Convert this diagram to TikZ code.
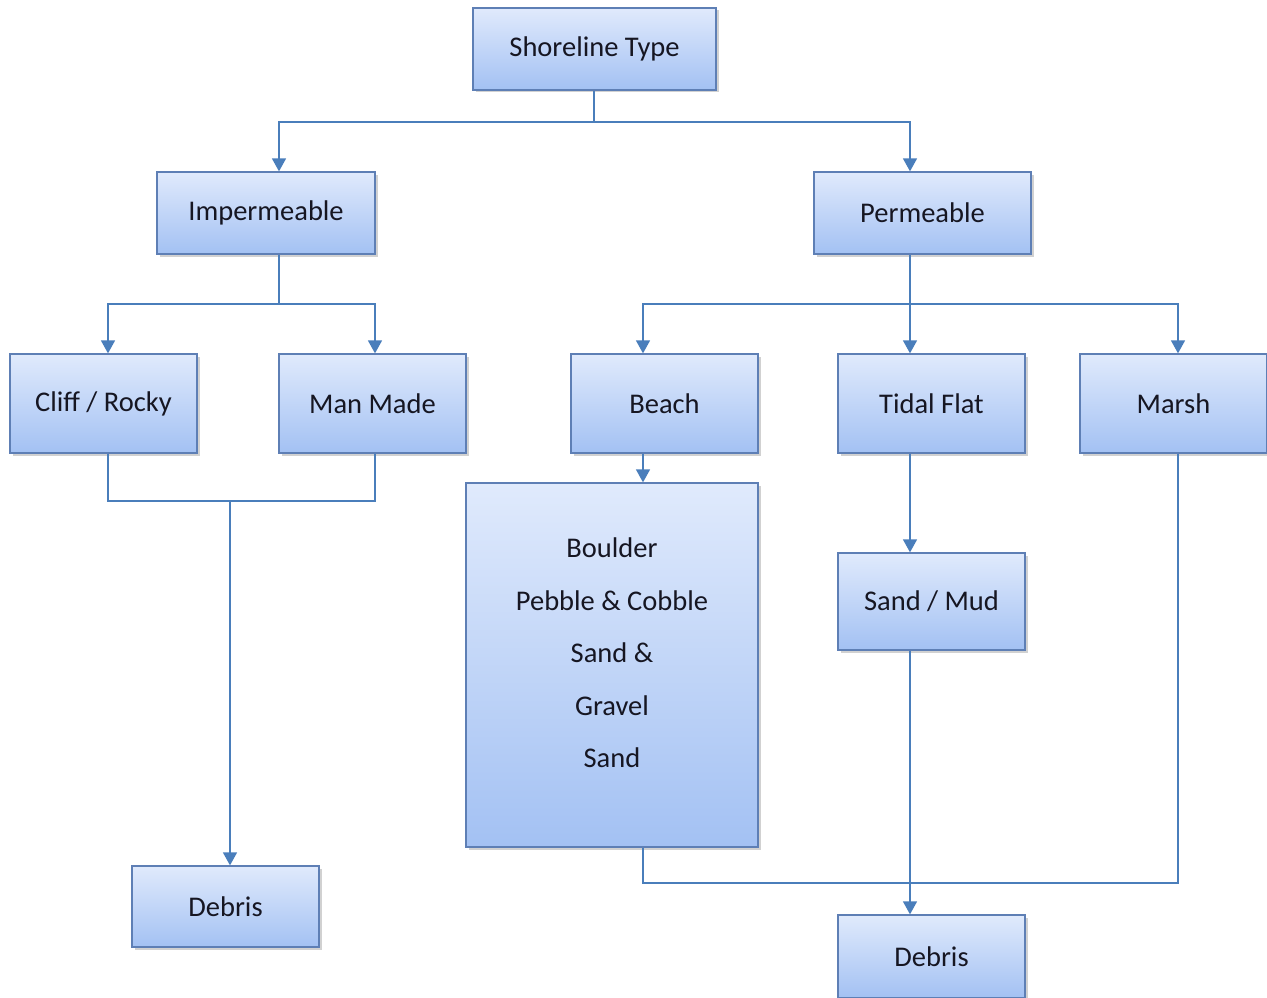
\documentclass[tikz,border=0pt]{standalone}
\usepackage{fontspec}
\setmainfont{Carlito}
\usetikzlibrary{arrows.meta,shadows}
\definecolor{linec}{HTML}{4A7EBB}
\definecolor{bordc}{HTML}{5E7FB5}
\definecolor{topc}{HTML}{E0EAFC}
\definecolor{botc}{HTML}{A3C1F3}
\definecolor{txtc}{HTML}{161622}
\tikzset{
  box/.style={draw=bordc, line width=1.3pt, top color=topc, bottom color=botc,
    text=txtc, font=\fontsize{28.5}{34}\selectfont, inner sep=0pt,
    drop shadow={shadow xshift=2.5pt, shadow yshift=-2.5pt, opacity=0.3, fill=black!60}},
  conn/.style={draw=linec, line width=1.5pt},
  arr/.style={conn, -{Triangle[width=14pt,length=13pt]}},
}
\begin{document}
\begin{tikzpicture}[x=1pt,y=-1pt]
\useasboundingbox (0,0) rectangle (1267,998);
% boxes
\node[box, minimum width=243, minimum height=82] (st) at (594.5,49) {Shoreline Type};
\node[box, minimum width=218, minimum height=82] (imp) at (266,213) {Impermeable};
\node[box, minimum width=217, minimum height=82] (perm) at (922.5,213) {Permeable};
\node[box, minimum width=187, minimum height=99] (cliff) at (103.5,403.5) {Cliff / Rocky};
\node[box, minimum width=187, minimum height=99] (man) at (372.5,403.5) {Man Made};
\node[box, minimum width=187, minimum height=99] (beach) at (664.5,403.5) {Beach};
\node[box, minimum width=187, minimum height=99] (tidal) at (931.5,403.5) {Tidal Flat};
\node[box, minimum width=187, minimum height=99] (marsh) at (1173.5,403.5) {Marsh};
\node[box, minimum width=292, minimum height=364, align=center, text depth=24pt,
      font=\fontsize{28.5}{52.5}\selectfont] (big) at (612,665)
      {Boulder\\Pebble \& Cobble\\Sand \&\\Gravel\\Sand};
\node[box, minimum width=187, minimum height=97] (mud) at (931.5,601.5) {Sand / Mud};
\node[box, minimum width=187, minimum height=81] (deb1) at (225.5,906.5) {Debris};
\node[box, minimum width=187, minimum height=83] (deb2) at (931.5,956.5) {Debris};
% junction coordinates
\coordinate (j1) at (594,122);
\coordinate (a1) at (279,122);
\coordinate (a0) at (910,122);
\coordinate (j2) at (279,304);
\coordinate (a2) at (108,304);
\coordinate (a3) at (375,304);
\coordinate (j3) at (910,304);
\coordinate (a4) at (643,304);
\coordinate (a5) at (1178,304);
\coordinate (m1) at (108,501);
\coordinate (m2) at (375,501);
\coordinate (m3) at (230,501);
\coordinate (b1) at (643,883);
\coordinate (b2) at (1178,883);
% connectors
\draw[conn] (st.south -| j1) -- (j1);
\draw[arr] (j1) -- (a1) -- (a1 |- imp.north);
\draw[arr] (j1) -- (a0) -- (a0 |- perm.north);
\draw[conn] (imp.south -| j2) -- (j2);
\draw[arr] (j2) -- (a2) -- (a2 |- cliff.north);
\draw[arr] (j2) -- (a3) -- (a3 |- man.north);
\draw[conn] (perm.south -| j3) -- (j3);
\draw[arr] (j3) -- (a4) -- (a4 |- beach.north);
\draw[arr] (j3) -- (a5) -- (a5 |- marsh.north);
\draw[arr] (j3) -- (j3 |- tidal.north);
\draw[conn] (m1 |- cliff.south) -- (m1) -- (m2) -- (m2 |- man.south);
\draw[arr] (m3) -- (m3 |- deb1.north);
\draw[arr] (beach.south -| a4) -- (a4 |- big.north);
\draw[arr] (tidal.south -| j3) -- (j3 |- mud.north);
\draw[arr] (mud.south -| j3) -- (j3 |- deb2.north);
\draw[conn] (big.south -| b1) -- (b1) -- (b2) -- (b2 |- marsh.south);
\end{tikzpicture}
\end{document}
